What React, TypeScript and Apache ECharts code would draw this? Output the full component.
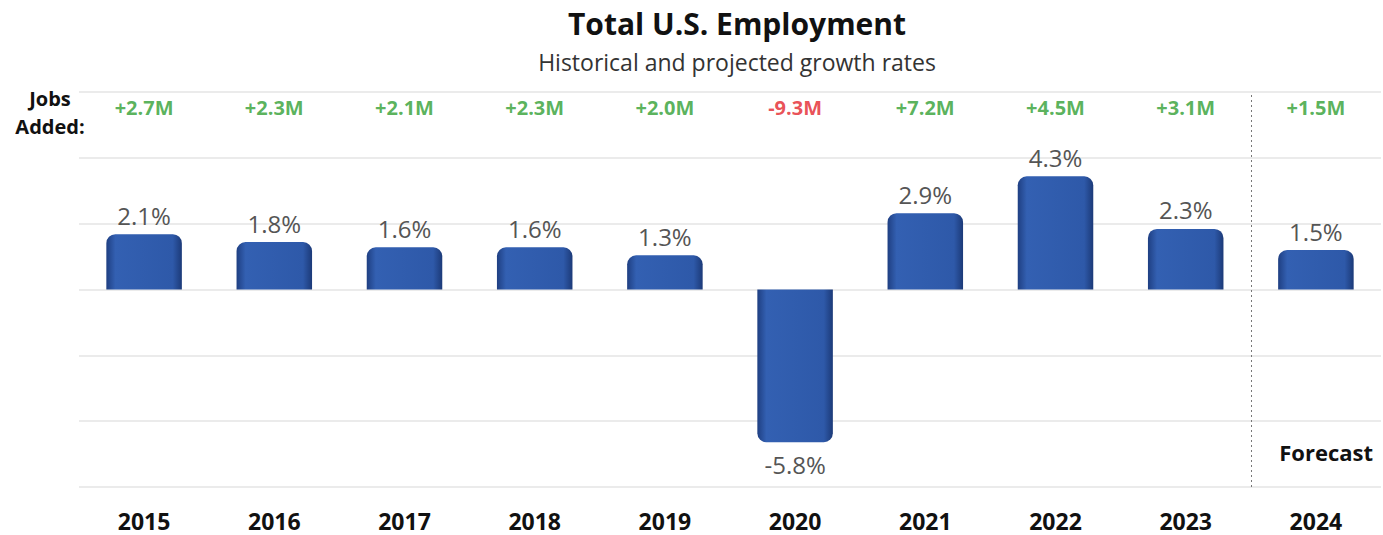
import React, { useEffect, useRef } from "react";
import * as echarts from "echarts";

const years = ["2015", "2016", "2017", "2018", "2019", "2020", "2021", "2022", "2023", "2024"];
const growthPct = [2.1, 1.8, 1.6, 1.6, 1.3, -5.8, 2.9, 4.3, 2.3, 1.5];
const jobsAddedM = [2.7, 2.3, 2.1, 2.3, 2.0, -9.3, 7.2, 4.5, 3.1, 1.5];
const jobsRowLevel = 6.9;
const forecastBoundary = 9;

const FONT = "'Open Sans', Lato, sans-serif";

export default function App() {
  const ref = useRef<HTMLDivElement>(null);
  useEffect(() => {
    if (!ref.current) return;
    const chart = echarts.init(ref.current, null, { renderer: "svg" });
    const barGrad = new echarts.graphic.LinearGradient(0, 0, 1, 0, [
      { offset: 0, color: "#1f3f82" },
      { offset: 0.12, color: "#3360b2" },
      { offset: 0.88, color: "#2e59a9" },
      { offset: 1, color: "#1c3a78" },
    ]);
    chart.setOption({
      animation: false,
      backgroundColor: "#ffffff",
      textStyle: { fontFamily: FONT },
      title: {
        text: "Total U.S. Employment",
        subtext: "Historical and projected growth rates",
        left: 732,
        textAlign: "center",
        top: 3,
        itemGap: 12,
        textStyle: { fontFamily: FONT, fontSize: 30, fontWeight: "bold", color: "#111" },
        subtextStyle: { fontFamily: FONT, fontSize: 23, color: "#333" },
      },
      grid: { left: 79, right: 2, top: 92, bottom: 48, containLabel: false },
      xAxis: [
        {
          type: "category",
          data: years,
          axisLine: { show: false },
          axisTick: { show: false },
          axisLabel: { fontFamily: FONT, fontSize: 23, fontWeight: "bold", color: "#111", margin: 22 },
        },
        { type: "value", min: 0, max: 10, show: false },
      ],
      yAxis: {
        type: "value",
        min: -7.5,
        max: 7.5,
        interval: 2.5,
        axisLabel: { show: false },
        axisLine: { show: false },
        axisTick: { show: false },
        splitLine: { lineStyle: { color: "#e4e4e4", width: 1.5 } },
      },
      graphic: [
        {
          type: "text",
          x: 50,
          y: 98,
          style: {
            text: "Jobs",
            fontFamily: FONT,
            fontSize: 20,
            fontWeight: "bold",
            fill: "#111",
            align: "center",
            verticalAlign: "middle",
          },
        },
        {
          type: "text",
          x: 50,
          y: 126,
          style: {
            text: "Added:",
            fontFamily: FONT,
            fontSize: 20,
            fontWeight: "bold",
            fill: "#111",
            align: "center",
            verticalAlign: "middle",
          },
        },
        {
          type: "text",
          right: 10,
          top: 441,
          style: { text: "Forecast", fontFamily: FONT, fontSize: 22, fontWeight: "bold", fill: "#111" },
        },
      ],
      series: [
        {
          type: "bar",
          data: growthPct.map((v) => ({
            value: v,
            itemStyle: { borderRadius: v >= 0 ? [9, 9, 0, 0] : [0, 0, 9, 9] },
            label: { position: v >= 0 ? "top" : "bottom", distance: v >= 0 ? 7 : 10 },
          })),
          barCategoryGap: "42%",
          itemStyle: { color: barGrad },
          label: {
            show: true,
            formatter: (p: any) => `${p.value.toFixed(1)}%`,
            fontFamily: FONT,
            fontSize: 24,
            color: "#555",
          },
        },
        {
          type: "scatter",
          data: jobsAddedM.map((v) => ({
            value: jobsRowLevel,
            label: { color: v < 0 ? "#e3242b" : "#2f9e32" },
          })),
          symbolSize: 1,
          itemStyle: { color: "rgba(0,0,0,0)" },
          label: {
            show: true,
            position: "inside",
            formatter: (p: any) => {
              const v = jobsAddedM[p.dataIndex];
              return `${v >= 0 ? "+" : ""}${v.toFixed(1)}M`;
            },
            fontFamily: FONT,
            fontSize: 20,
            fontWeight: "bold",
          },
          z: 5,
        },
        {
          type: "scatter",
          xAxisIndex: 1,
          data: [],
          markLine: {
            silent: true,
            symbol: "none",
            label: { show: false },
            lineStyle: { type: [2, 3], color: "#777", width: 1 },
            data: [{ xAxis: forecastBoundary }],
          },
        },
      ],
    });
    return () => chart.dispose();
  }, []);
  return (
    <div
      ref={ref}
      style={{ position: "absolute", left: 0, top: 0, width: 1383, height: 535 }}
    />
  );
}
